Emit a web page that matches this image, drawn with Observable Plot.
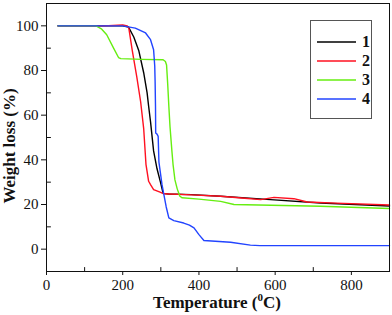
<!DOCTYPE html>
<html>
<head>
<meta charset="utf-8">
<script src="https://cdn.jsdelivr.net/npm/d3@7"></script>
<script src="https://cdn.jsdelivr.net/npm/@observablehq/plot@0.6"></script>
<style>
  html, body { margin: 0; padding: 0; background: #fff; }
  #wrap { position: relative; width: 392px; height: 315px; font-family: 'Liberation Serif', 'Times New Roman', 'DejaVu Serif', serif; }
  .lab { position: absolute; font-weight: bold; font-size: 17px; color: #111; white-space: nowrap; font-family: 'Liberation Serif', 'Times New Roman', 'DejaVu Serif', serif; }
  #legend { position: absolute; left: 310px; top: 20px; width: 60px; height: 97px; border: 1px solid #555; background: #fff; }
</style>
</head>
<body>
<div id="wrap"></div>
<script>
const seriesNames = ["1", "2", "3", "4"];
const seriesColors = ["#000000", "#ff1020", "#66ee11", "#2244ff"];

const s1T = [30, 200, 215, 229, 242, 255, 264, 268, 273, 281, 290, 299, 306, 320, 380, 457, 588, 719, 900];
const s1W = [100, 100, 99.5, 95, 89, 79, 70, 64, 57, 44, 36, 30, 25, 24.7, 24.4, 23.7, 22.2, 20.7, 19.3];

const s2T = [30, 150, 200, 212, 216, 225, 237, 247, 255, 261, 268, 273, 281, 298, 308, 380, 457, 520, 562, 597, 649, 684, 760, 900];
const s2W = [100, 100, 100.4, 100, 99, 89, 77, 66, 54, 38, 30.4, 28.9, 26.7, 25.5, 24.8, 24.3, 23.7, 22.8, 22.2, 23.2, 22.6, 21.1, 20.6, 19.8];

const s3T = [30, 130, 145, 158, 176, 189, 195, 250, 306, 312, 315, 318, 321, 324, 329, 332, 337, 343, 350, 356, 400, 457, 492, 719, 900];
const s3W = [100, 100, 98.5, 96, 90, 85.8, 85.3, 85, 84.8, 84, 82.5, 74, 64, 55, 44, 38, 31, 27, 23.7, 23, 22.4, 21.4, 20, 19.2, 18.2];

const s4T = [30, 200, 233, 260, 273, 281, 284, 285, 286, 286.5, 290, 293, 295, 303, 308, 314, 321, 334, 360, 375, 387, 400, 413, 483, 535, 560, 900];
const s4W = [100, 100, 99, 96.8, 93.8, 89.3, 82, 75, 64, 52, 51.5, 50.5, 39, 29, 24.4, 19, 14, 12.8, 11.7, 10.8, 9.5, 6.5, 3.9, 3.1, 1.8, 1.6, 1.6];

const xMajor = [0, 200, 400, 600, 800];
const xMinor = [100, 300, 500, 700];
const yMajor = [0, 20, 40, 60, 80, 100];
const yMinor = [10, 30, 50, 70, 90];

const allT = [s1T, s2T, s3T, s4T];
const allW = [s1W, s2W, s3W, s4W];
const data = [];
allT.forEach((ts, i) => ts.forEach((t, j) => data.push({T: t, W: allW[i][j], s: seriesNames[i]})));

const serif = "'Liberation Serif', 'Times New Roman', 'DejaVu Serif', serif";
const tickShape = {draw(context, l) { context.moveTo(0, 0); context.lineTo(0, -l); }};

const chart = Plot.plot({
  width: 392, height: 315,
  marginLeft: 46, marginRight: 3, marginTop: 3, marginBottom: 44,
  style: {fontFamily: serif, fontSize: "15px", color: "#111", background: "#fff"},
  x: {domain: [0, 900]},
  y: {domain: [-10, 110]},
  color: {domain: seriesNames, range: seriesColors},
  marks: [
    Plot.axisX({ticks: xMajor, tickSize: 4, tickPadding: 4, label: null, tickFormat: d => String(d), fontFamily: serif, fontSize: 15}),
    Plot.axisY({ticks: yMajor, tickSize: 5, tickPadding: 3, label: null, tickFormat: d => String(d), fontFamily: serif, fontSize: 15}),
    Plot.vector(xMinor, {x: d => d, frameAnchor: "bottom", length: 4, rotate: 0, anchor: "start", shape: tickShape, stroke: "#111", strokeWidth: 1}),
    Plot.vector(yMinor, {y: d => d, frameAnchor: "left", length: 4, rotate: 90, anchor: "start", shape: tickShape, stroke: "#111", strokeWidth: 1}),
    Plot.line(data, {x: "T", y: "W", z: "s", stroke: "s", strokeWidth: 1.4}),
    Plot.frame({stroke: "#111", strokeWidth: 1})
  ]
});

const wrap = document.getElementById("wrap");
wrap.appendChild(chart);

const xl = document.createElement("div");
xl.className = "lab";
xl.innerHTML = "Temperature (<sup style='font-size:11px'>0</sup>C)";
xl.style.left = "217px"; xl.style.top = "291px"; xl.style.transform = "translateX(-50%)";
wrap.appendChild(xl);

const yl = document.createElement("div");
yl.className = "lab";
yl.textContent = "Weight loss (%)";
yl.style.left = "10px"; yl.style.top = "146px";
yl.style.transform = "translate(-50%, -50%) rotate(-90deg)";
wrap.appendChild(yl);

const leg = document.createElement("div");
leg.id = "legend";
const ns = "http://www.w3.org/2000/svg";
const lsvg = document.createElementNS(ns, "svg");
lsvg.setAttribute("width", "60"); lsvg.setAttribute("height", "97");
seriesNames.forEach((n, i) => {
  const y = 21 + i * 19;
  const ln = document.createElementNS(ns, "line");
  ln.setAttribute("x1", 6); ln.setAttribute("x2", 45);
  ln.setAttribute("y1", y); ln.setAttribute("y2", y);
  ln.setAttribute("stroke", seriesColors[i]); ln.setAttribute("stroke-width", 1.4);
  lsvg.appendChild(ln);
  const tx = document.createElementNS(ns, "text");
  tx.setAttribute("x", 51); tx.setAttribute("y", y + 5);
  tx.setAttribute("font-family", serif);
  tx.setAttribute("font-weight", "bold"); tx.setAttribute("font-size", "16");
  tx.setAttribute("fill", "#111");
  tx.textContent = n;
  lsvg.appendChild(tx);
});
leg.appendChild(lsvg);
wrap.appendChild(leg);
</script>
</body>
</html>
